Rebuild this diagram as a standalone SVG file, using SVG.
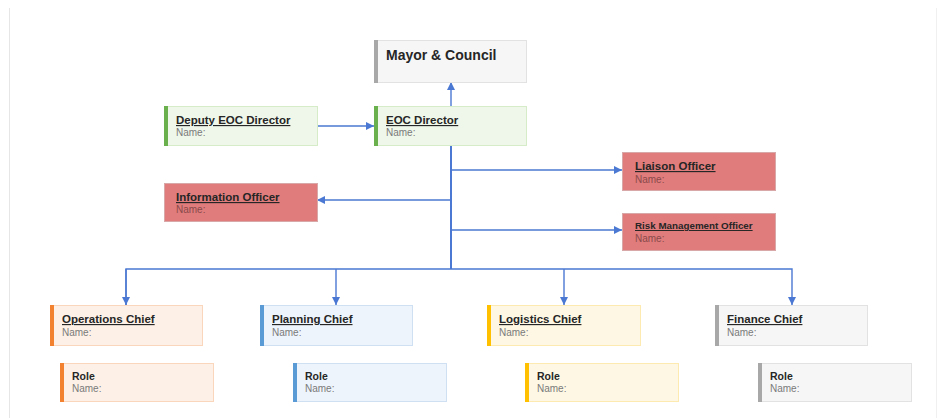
<svg xmlns="http://www.w3.org/2000/svg" width="938" height="418" viewBox="0 0 938 418">
<style>
text{font-family:"Liberation Sans",Arial,sans-serif}
.t{font-size:11.5px;font-weight:bold;fill:#262626;text-decoration:underline}
.ts{font-size:9.8px;font-weight:bold;fill:#262626;text-decoration:underline}
.r{font-size:10.5px;font-weight:bold;fill:#262626}
.n{font-size:10px;fill:#7a7a7a}
.nr{font-size:10px;fill:#8a4a4a}
.g rect.b{fill:#eff7ea;stroke:#d6ecc8}
.g rect.s{fill:#6ab04c}
.red rect.b{fill:#e07c7c;stroke:#d8a8a8}
.o rect.b{fill:#fdf1e7;stroke:#fad6bd}
.o rect.s{fill:#f2822f}
.bl rect.b{fill:#eef4fb;stroke:#cfe0f2}
.bl rect.s{fill:#5b9bd5}
.y rect.b{fill:#fdf7e4;stroke:#fdeab0}
.y rect.s{fill:#ffc000}
.gr rect.b{fill:#f6f6f6;stroke:#e2e2e2}
.gr rect.s{fill:#a8a8a8}
.c line,.c polyline{stroke:#4a78d2;stroke-width:1.4;fill:none}
</style>
<defs>
<marker id="ah" viewBox="0 0 10 10" refX="10" refY="5" markerWidth="8" markerHeight="8" markerUnits="userSpaceOnUse" orient="auto">
<path d="M0,0 L10,5 L0,10 z" fill="#4a78d2"/>
</marker>
</defs>
<rect width="938" height="418" fill="#ffffff"/>
<line x1="9.5" y1="8" x2="9.5" y2="418" stroke="#e6e6e6" stroke-width="1"/>
<line x1="936.5" y1="8" x2="936.5" y2="418" stroke="#f0f0f0" stroke-width="1"/>

<g class="c" id="connectors">
<line x1="451" y1="106" x2="451" y2="82" marker-end="url(#ah)"/>
<line x1="317" y1="126" x2="374" y2="126" marker-end="url(#ah)"/>
<line x1="451" y1="145" x2="451" y2="269" style="stroke-width:2"/>
<line x1="451" y1="170" x2="622" y2="170" marker-end="url(#ah)"/>
<line x1="451" y1="200" x2="317" y2="200" marker-end="url(#ah)"/>
<line x1="451" y1="230" x2="622" y2="230" marker-end="url(#ah)"/>
<polyline points="126,305 126,269 792,269 792,305" marker-end="url(#ah)"/>
<line x1="126" y1="269" x2="126" y2="305" marker-end="url(#ah)"/>
<line x1="336" y1="269" x2="336" y2="305" marker-end="url(#ah)"/>
<line x1="564" y1="269" x2="564" y2="305" marker-end="url(#ah)"/>
</g>

<g id="mayor" class="gr">
<rect class="b" x="374.5" y="40.5" width="152" height="42"/>
<rect class="s" x="374" y="40" width="4" height="43"/>
<text x="386" y="60" style="font-size:14px;font-weight:bold;fill:#262626">Mayor &amp; Council</text>
</g>

<g id="deputy" class="g">
<rect class="b" x="164.5" y="106.5" width="153" height="39"/>
<rect class="s" x="164" y="106" width="4" height="40"/>
<text class="t" x="176" y="124">Deputy EOC Director</text>
<text class="n" x="176" y="136">Name:</text>
</g>

<g id="director" class="g">
<rect class="b" x="374.5" y="106.5" width="152" height="39"/>
<rect class="s" x="374" y="106" width="4" height="40"/>
<text class="t" x="386" y="124">EOC Director</text>
<text class="n" x="386" y="136">Name:</text>
</g>

<g id="liaison" class="red">
<rect class="b" x="622.5" y="152.5" width="153" height="38"/>
<text class="t" x="635" y="170">Liaison Officer</text>
<text class="nr" x="635" y="183">Name:</text>
</g>

<g id="information" class="red">
<rect class="b" x="164.5" y="183.5" width="153" height="38"/>
<text class="t" x="176" y="201">Information Officer</text>
<text class="nr" x="176" y="213">Name:</text>
</g>

<g id="risk" class="red">
<rect class="b" x="622.5" y="213.5" width="153" height="37"/>
<text class="ts" x="635" y="229">Risk Management Officer</text>
<text class="nr" x="635" y="242">Name:</text>
</g>

<g id="operations" class="o">
<rect class="b" x="50.5" y="305.5" width="152" height="40"/>
<rect class="s" x="50" y="305" width="4" height="41"/>
<text class="t" x="62" y="323">Operations Chief</text>
<text class="n" x="62" y="336">Name:</text>
</g>
<g id="ops-role" class="o">
<rect class="b" x="60.5" y="363.5" width="153" height="38"/>
<rect class="s" x="60" y="363" width="4" height="39"/>
<text class="r" x="72" y="380">Role</text>
<text class="n" x="72" y="392">Name:</text>
</g>

<g id="planning" class="bl">
<rect class="b" x="260.5" y="305.5" width="152" height="40"/>
<rect class="s" x="260" y="305" width="4" height="41"/>
<text class="t" x="272" y="323">Planning Chief</text>
<text class="n" x="272" y="336">Name:</text>
</g>
<g id="planning-role" class="bl">
<rect class="b" x="293.5" y="363.5" width="153" height="38"/>
<rect class="s" x="293" y="363" width="4" height="39"/>
<text class="r" x="305" y="380">Role</text>
<text class="n" x="305" y="392">Name:</text>
</g>

<g id="logistics" class="y">
<rect class="b" x="487.5" y="305.5" width="153" height="40"/>
<rect class="s" x="487" y="305" width="4" height="41"/>
<text class="t" x="499" y="323">Logistics Chief</text>
<text class="n" x="499" y="336">Name:</text>
</g>
<g id="logistics-role" class="y">
<rect class="b" x="525.5" y="363.5" width="153" height="38"/>
<rect class="s" x="525" y="363" width="4" height="39"/>
<text class="r" x="537" y="380">Role</text>
<text class="n" x="537" y="392">Name:</text>
</g>

<g id="finance" class="gr">
<rect class="b" x="715.5" y="305.5" width="152" height="40"/>
<rect class="s" x="715" y="305" width="4" height="41"/>
<text class="t" x="727" y="323">Finance Chief</text>
<text class="n" x="727" y="336">Name:</text>
</g>
<g id="finance-role" class="gr">
<rect class="b" x="758.5" y="363.5" width="153" height="38"/>
<rect class="s" x="758" y="363" width="4" height="39"/>
<text class="r" x="770" y="380">Role</text>
<text class="n" x="770" y="392">Name:</text>
</g>
</svg>
